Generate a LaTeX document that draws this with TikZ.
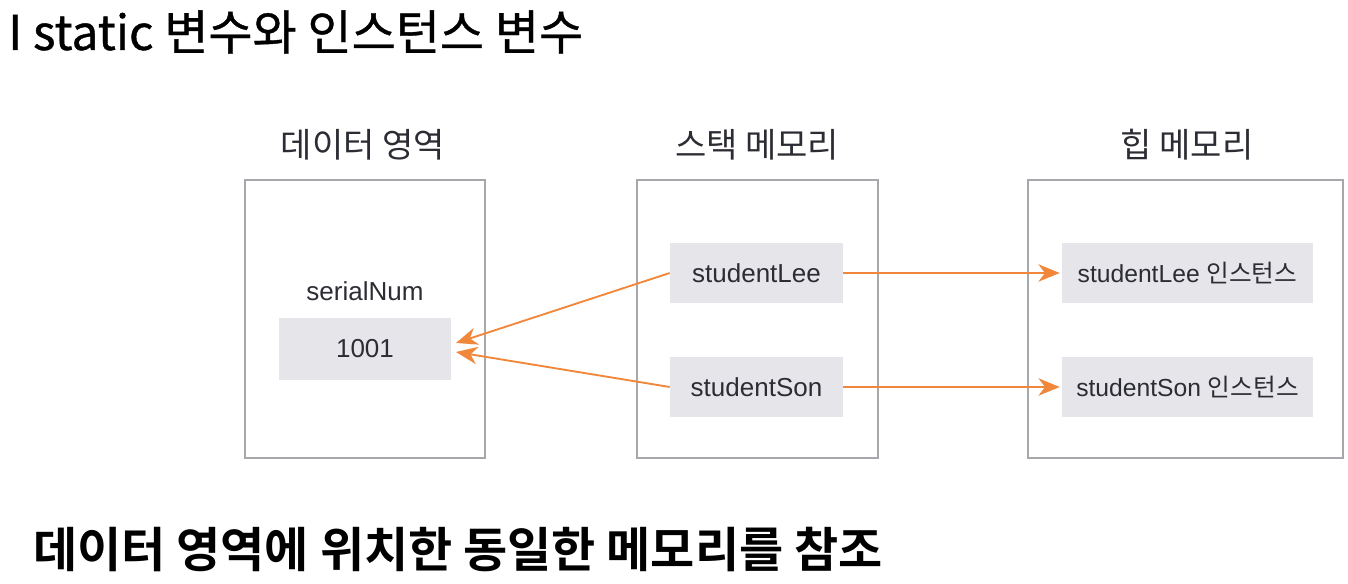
\documentclass[tikz,border=0pt]{standalone}
\usepackage{fontspec}
\setmainfont{Liberation Sans}
\newfontfamily\cjk{Noto Sans CJK KR}
\newfontfamily\cjkm[FakeBold=0.8]{Noto Sans CJK KR}
\newfontfamily\cjkb{Noto Sans CJK KR Bold}
\usetikzlibrary{arrows.meta}
\definecolor{boxline}{HTML}{A8A8AC}
\definecolor{cellfill}{HTML}{E6E6EA}
\definecolor{arrowc}{HTML}{F0873A}
\definecolor{txt}{HTML}{2C2C34}
\tikzset{
  area/.style={draw=boxline, line width=1.2pt, fill=white},
  cell/.style={fill=cellfill, inner sep=0pt, text=txt, font=\fontsize{19.5}{22}\selectfont},
  heapcell/.style={cell, font=\fontsize{18.5}{21}\selectfont},
  head/.style={text=txt, font=\cjk\fontsize{25.5}{28}\selectfont},
  ref/.style={draw=arrowc, line width=1.4pt, -{Stealth[length=16pt,width=13pt,inset=5pt]}}
}
\begin{document}
\begin{tikzpicture}[x=0.75pt,y=-0.75pt]
\useasboundingbox (0,0) rectangle (1348,584);
\node[anchor=west, font=\cjkm\fontsize{36}{40}\selectfont, inner sep=0pt] (title) at (8,32) {I static 변수와 인스턴스 변수};
% areas
\draw[area] (245,180) rectangle (485,458);
\draw[area] (637,180) rectangle (878,458);
\draw[area] (1028,180) rectangle (1343,458);
\node[head] (h1) at (363,145) {데이터 영역};
\node[head] (h2) at (757,145) {스택 메모리};
\node[head] (h3) at (1187,145) {힙 메모리};
% data area
\node[text=txt, font=\fontsize{19.5}{22}\selectfont] (sn) at (365,291) {serialNum};
\node[cell, minimum width=172*0.75pt, minimum height=62*0.75pt] (num) at (365,349) {1001};
% stack
\node[cell, minimum width=173*0.75pt, minimum height=60*0.75pt] (lee) at (756.5,273) {studentLee};
\node[cell, minimum width=173*0.75pt, minimum height=60*0.75pt] (son) at (756.5,387) {studentSon};
% heap
\node[heapcell, minimum width=251*0.75pt, minimum height=60*0.75pt] (ilee) at (1187.5,273) {studentLee {\cjk 인스턴스}};
\node[heapcell, minimum width=251*0.75pt, minimum height=60*0.75pt] (ison) at (1187.5,387) {studentSon {\cjk 인스턴스}};
% arrows
\coordinate (t1) at (456,343);
\coordinate (t2) at (456,352);
\draw[ref] (lee.west) -- (t1);
\draw[ref] (son.west) -- (t2);
\draw[ref] (lee.east) -- ([xshift=-2*0.75pt]ilee.west);
\draw[ref] (son.east) -- ([xshift=-2*0.75pt]ison.west);
\node[anchor=west, font=\cjkb\fontsize{36}{40}\selectfont, inner sep=0pt] (note) at (33,549) {데이터 영역에 위치한 동일한 메모리를 참조};
\end{tikzpicture}
\end{document}
